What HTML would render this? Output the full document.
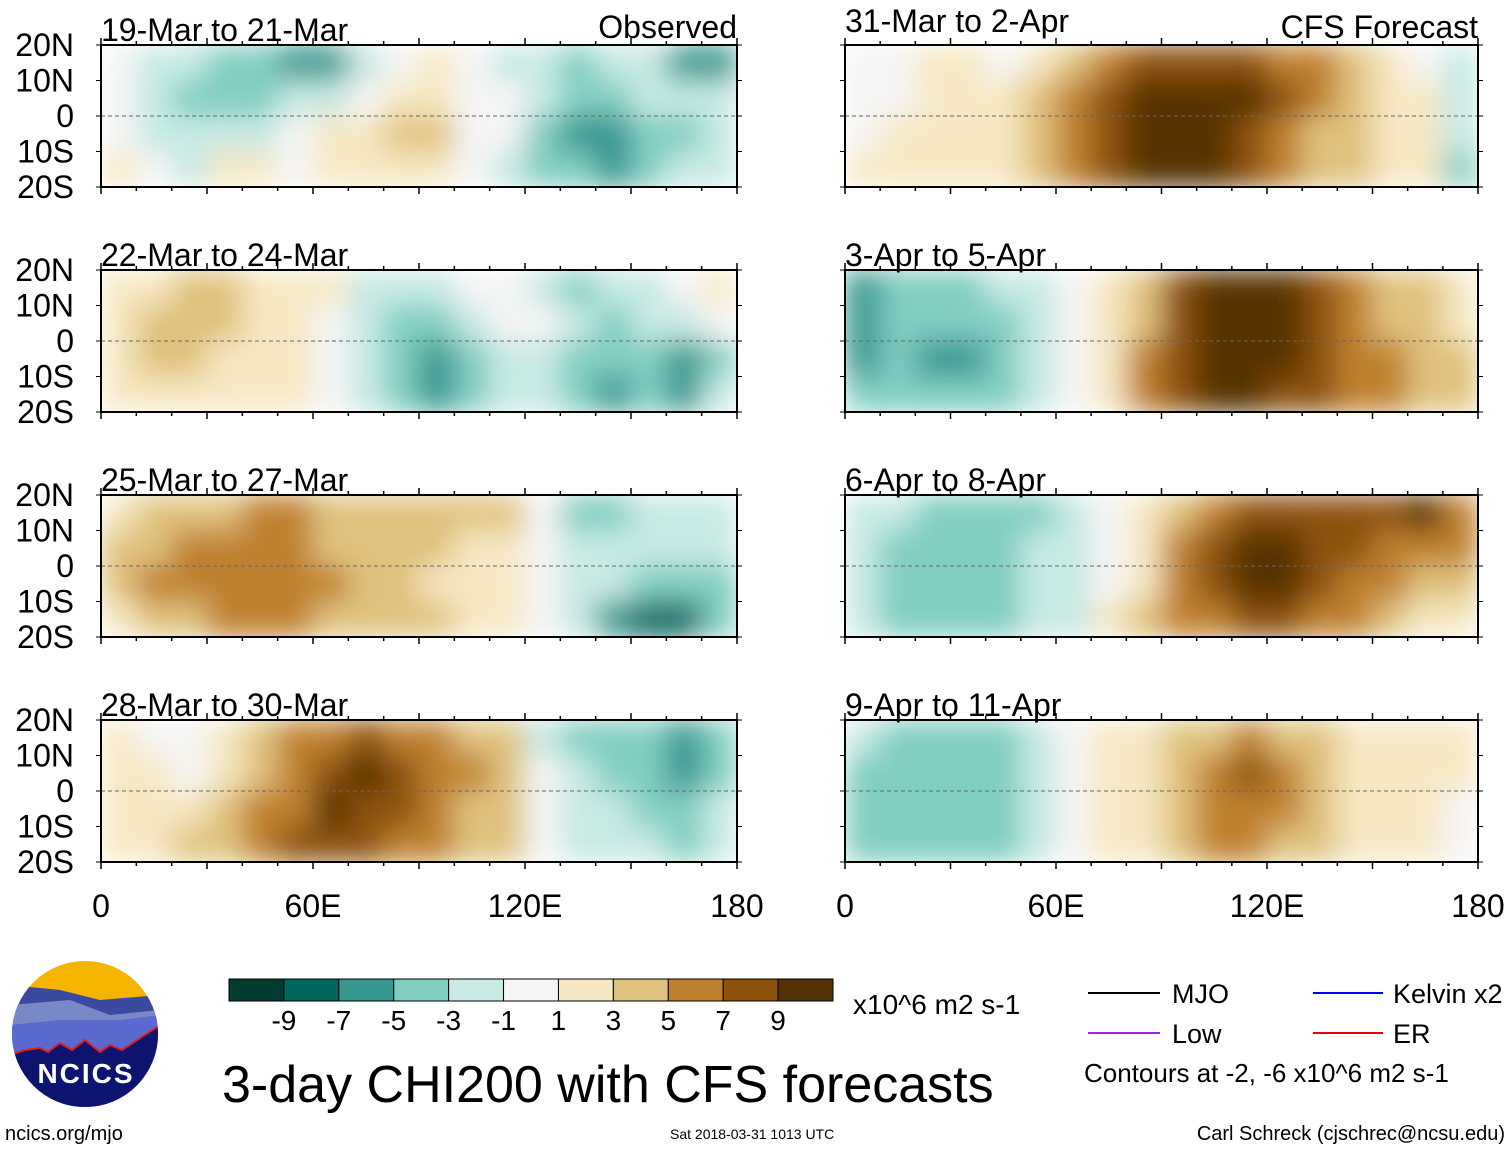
<!DOCTYPE html>
<html><head><meta charset="utf-8"><style>
body{margin:0;background:#fff;}
svg text{font-family:"Liberation Sans",sans-serif;}
</style></head><body>
<svg id="c" width="1510" height="1149" xmlns="http://www.w3.org/2000/svg">
<defs>
<filter id="bl" x="0" y="0" width="1" height="1"><feGaussianBlur stdDeviation="14" edgeMode="duplicate"/></filter>
</defs>
<g id="panels"></g>
<g>
<clipPath id="lc"><circle cx="85" cy="1034" r="73"/></clipPath>
<g clip-path="url(#lc)">
<rect x="10" y="960" width="150" height="150" fill="#f4b400"/>
<path d="M10 985 L60 990 L100 1000 L160 995 L160 1110 L10 1110Z" fill="#3a4aa0"/>
<path d="M10 1005 L70 1000 L110 1015 L160 1010 L160 1110 L10 1110Z" fill="#7a88c8"/>
<path d="M10 1025 L60 1020 L120 1020 L160 1015 L160 1110 L10 1110Z" fill="#5a6ad0"/>
<path d="M10 1055 L25 1050 L40 1048 L48 1052 L60 1043 L72 1050 L85 1040 L100 1052 L110 1045 L122 1050 L160 1025 L160 1110 L10 1110Z" fill="#0c1470" stroke="#e02020" stroke-width="2"/>
</g>
<text x="86" y="1083" text-anchor="middle" font-size="28" font-weight="bold" fill="#fff" letter-spacing="2">NCICS</text>
</g>
<text x="5" y="1140" font-size="20">ncics.org/mjo</text>
<g id="cbar"></g>
<text x="853" y="1014" font-size="28">x10^6 m2 s-1</text>
<text x="222" y="1102" font-size="52">3-day CHI200 with CFS forecasts</text>
<g>
<line x1="1088" y1="993" x2="1160" y2="993" stroke="#000" stroke-width="2"/><text x="1172" y="1003" font-size="27">MJO</text>
<line x1="1313" y1="993" x2="1383" y2="993" stroke="#0000ee" stroke-width="2"/><text x="1393" y="1003" font-size="27">Kelvin x2</text>
<line x1="1088" y1="1033" x2="1160" y2="1033" stroke="#a020f0" stroke-width="2"/><text x="1172" y="1043" font-size="27">Low</text>
<line x1="1313" y1="1033" x2="1383" y2="1033" stroke="#ee0000" stroke-width="2"/><text x="1393" y="1043" font-size="27">ER</text>
<text x="1084" y="1082" font-size="26">Contours at -2, -6 x10^6 m2 s-1</text>
</g>
<text x="670" y="1139" font-size="14">Sat 2018-03-31 1013 UTC</text>
<text x="1505" y="1140" font-size="20" text-anchor="end">Carl Schreck (cjschrec@ncsu.edu)</text>
</svg>
<script>
const levels=[-9,-7,-5,-3,-1,1,3,5,7,9];
const colors=["#003c30","#01665e","#35978f","#80cdc1","#c7eae5","#f5f5f5","#f6e8c3","#dfc27d","#bf812d","#8c510a","#543005"];
const cbarLabels=["-9","-7","-5","-3","-1","1","3","5","7","9"];
const lonTicks=[0,60,120,180];
const lonLabels=["0","60E","120E","180"];
const latTicks=[20,10,0,-10,-20];
const latLabels=["20N","10N","0","10S","20S"];
const titles=["19-Mar to 21-Mar","22-Mar to 24-Mar","25-Mar to 27-Mar","28-Mar to 30-Mar","31-Mar to 2-Apr","3-Apr to 5-Apr","6-Apr to 8-Apr","9-Apr to 11-Apr"];
const p1=[[-1,-2,-3,-4,-5,-6,-7,-3,-1,1,-1,-2,-3,-4,-3,-2,-6,-7],[-1,-3,-4,-5,-4,-3,-2,-1,1,2,-1,-1,-3,-4,-4,-3,-3,-3],[-1,-2,-3,-3,-2,-1,1,2,3,3,-1,-1,-4,-6,-7,-5,-5,-3],[1,-1,-2,1,2,-1,1,2,2,1,-1,-2,-4,-5,-6,-5,-3,-2]];
const p2=[[2,2,3,3,2,1,1,-2,-3,-3,-1,-1,-2,-4,-3,-2,-1,1],[2,3,3,3,2,1,-1,-3,-4,-5,-3,-1,-1,-3,-4,-3,-2,-1],[2,3,3,2,1,1,-1,-3,-5,-6,-4,-2,-3,-4,-4,-4,-6,-4],[2,2,2,2,1,1,-1,-2,-5,-7,-5,-3,-2,-5,-6,-5,-7,-3]];
const p3=[[2,3,3,4,6,5,4,3,3,3,3,4,-1,-5,-4,-3,-3,-3],[3,4,5,5,6,6,4,3,3,3,2,1,-1,-3,-3,-3,-3,-3],[3,6,5,5,6,6,5,3,3,2,1,1,-1,-2,-3,-4,-5,-4],[2,4,4,5,6,6,4,3,3,3,2,1,-1,-3,-6,-8,-9,-5]];
const p4=[[1,-1,-1,1,3,5,6,7,6,5,4,3,-2,-4,-5,-5,-6,-5],[1,1,-1,1,4,6,8,9,7,6,5,3,-1,-3,-4,-5,-6,-4],[2,1,1,3,5,6,9,8,7,6,4,3,-1,-3,-3,-4,-4,-3],[2,1,3,4,6,7,8,7,6,6,4,3,-1,-2,-2,-3,-4,-3]];
const p5=[[-1,-1,1,1,-1,2,4,6,7,8,8,7,6,5,3,1,-1,-3],[-1,-1,1,1,1,3,5,7,9,10,10,9,7,5,3,2,1,-2],[-1,1,1,1,2,3,5,7,9,10,10,8,6,4,3,2,1,-2],[1,1,1,2,2,4,6,7,9,10,9,8,6,4,3,2,1,-4]];
const p6=[[-6,-4,-4,-4,-3,-2,-1,1,4,7,9,10,9,7,5,4,3,2],[-6,-5,-5,-5,-4,-3,-1,1,4,8,10,10,9,7,5,4,3,2],[-6,-5,-6,-6,-5,-3,-1,1,5,8,10,10,9,7,6,5,4,3],[-5,-5,-5,-5,-4,-3,-1,1,5,8,9,9,8,7,6,5,4,3]];
const p7=[[-3,-3,-4,-4,-5,-4,-3,-1,1,4,6,7,8,8,7,7,9,6],[-3,-4,-4,-4,-4,-3,-2,-1,2,5,7,9,9,8,7,6,6,6],[-3,-4,-4,-4,-4,-3,-2,-1,2,5,7,9,9,8,6,5,4,3],[-3,-4,-4,-4,-4,-3,-2,1,3,5,6,7,7,6,5,3,2,1]];
const p8=[[-3,-4,-4,-4,-4,-2,-1,1,2,3,4,5,4,3,2,1,1,1],[-5,-4,-4,-5,-4,-3,-1,1,2,4,6,7,5,3,2,2,1,1],[-4,-4,-5,-5,-4,-3,-1,1,2,4,6,6,5,3,2,2,1,-1],[-4,-5,-5,-5,-4,-2,-1,1,2,3,5,5,4,3,2,1,1,-1]];
const fields=[p1,p2,p3,p4,p5,p6,p7,p8];
const NS="http://www.w3.org/2000/svg";
function mk(t,a,par){const e=document.createElementNS(NS,t);for(const k in a)e.setAttribute(k,a[k]);par.appendChild(e);return e;}
function col(v){let i=0;while(i<levels.length&&v>=levels[i])i++;return colors[i];}
const G=document.getElementById('panels');
const X0=[101,845],W=[636,633],Y0=[45,270,495,720],H=142;
fields.forEach((f,pi)=>{
  const c=pi<4?0:1,r=pi%4;const x0=X0[c],w=W[c],y0=Y0[r];
  const xs=lon=>x0+lon/180*w, ys=lat=>y0+(20-lat)/40*H;
  const g=mk('g',{},G);
  
  
  const cp=mk('clipPath',{id:'cp'+pi},g);mk('rect',{x:x0,y:y0,width:w,height:H},cp);
  const cg=mk('g',{'clip-path':'url(#cp'+pi+')'},g);
  const hg=mk('g',{filter:'url(#bl)'},cg);
  mk('rect',{x:x0,y:y0,width:w,height:H,fill:'#f5f5f5'},hg);
  f.forEach((row,ri)=>row.forEach((v,ci)=>{
    const cell=mk('rect',{x:xs(ci*10),y:ys(20-ri*10),width:xs((ci+1)*10)-xs(ci*10)+0.5,height:ys(10-ri*10)-ys(20-ri*10)+0.5,fill:col(v)},hg);
    
    
  }));
  mk('line',{x1:x0,y1:ys(0),x2:x0+w,y2:ys(0),stroke:'#666','stroke-dasharray':'4 3','stroke-width':1},g);
  mk('rect',{x:x0,y:y0,width:w,height:H,fill:'none',stroke:'#000','stroke-width':2},g);
  for(let lon=0;lon<=180;lon+=10){const L=lon%30==0?7:4;
    mk('line',{x1:xs(lon),y1:y0,x2:xs(lon),y2:y0-L,stroke:'#000','stroke-width':1.5},g);
    mk('line',{x1:xs(lon),y1:y0+H,x2:xs(lon),y2:y0+H+L,stroke:'#000','stroke-width':1.5},g);}
  latTicks.forEach(lat=>{mk('line',{x1:x0,y1:ys(lat),x2:x0-5,y2:ys(lat),stroke:'#000'},g);mk('line',{x1:x0+w,y1:ys(lat),x2:x0+w+5,y2:ys(lat),stroke:'#000'},g);});
  const t=mk('text',{x:x0,y:y0-(c==1&&r==0?13:4),'font-size':32},g);t.textContent=titles[pi];
  
  
  if(c==0){latTicks.forEach((lat,i)=>{const tt=mk('text',{x:74,y:ys(lat)+11,'text-anchor':'end','font-size':32},g);tt.textContent=latLabels[i];
    
    });}
  if(r==3){lonTicks.forEach((lon,i)=>{const tt=mk('text',{x:xs(lon),y:917,'text-anchor':'middle','font-size':32},g);tt.textContent=lonLabels[i];
    
    });}
});
const s1=document.createElementNS(NS,'text');s1.setAttribute('x',737);s1.setAttribute('y',38);s1.setAttribute('text-anchor','end');s1.setAttribute('font-size',32);s1.textContent='Observed';G.appendChild(s1);


const s2=document.createElementNS(NS,'text');s2.setAttribute('x',1478);s2.setAttribute('y',38);s2.setAttribute('text-anchor','end');s2.setAttribute('font-size',32);s2.textContent='CFS Forecast';G.appendChild(s2);


const CB=document.getElementById('cbar');


const bw=(833-229)/colors.length;
colors.forEach((cc,i)=>{const b=mk('rect',{x:229+i*bw,y:979,width:bw,height:22,fill:cc,stroke:'#000','stroke-width':1},CB);
  
  });
cbarLabels.forEach((l,i)=>{const t=mk('text',{x:229+(i+1)*bw,y:1030,'text-anchor':'middle','font-size':28},CB);t.textContent=l;
  
  });
</script>
</body></html>
